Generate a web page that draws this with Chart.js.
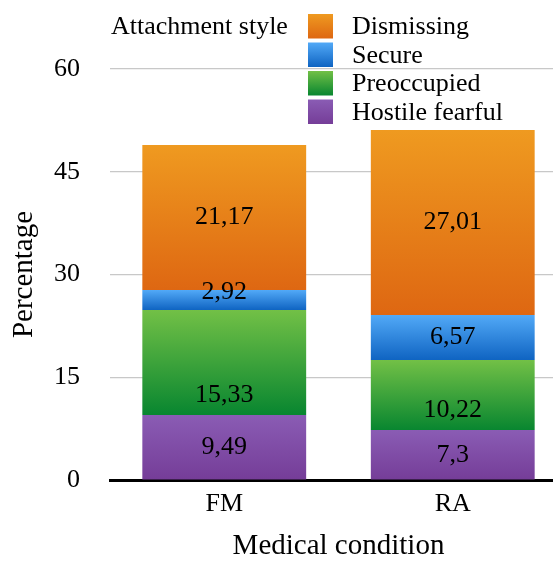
<!DOCTYPE html>
<html>
<head>
<meta charset="utf-8">
<script src="https://cdn.jsdelivr.net/npm/chart.js@4.4.1/dist/chart.umd.min.js"></script>
<style>
  html, body { margin: 0; padding: 0; overflow: hidden; background: #fff; }
  #wrap { width: 580px; height: 561px; position: relative; }
</style>
</head>
<body>
<div id="wrap"><canvas id="chart"></canvas></div>
<script>
// Percentages by attachment style for each medical condition
const conditions = ['FM', 'RA'];
const styleNames = ['Hostile fearful', 'Preoccupied', 'Secure', 'Dismissing'];
const hostileFearful = [9.49, 7.3];
const preoccupied = [15.33, 10.22];
const secure = [2.92, 6.57];
const dismissing = [21.17, 27.01];
const yTicks = [0, 15, 30, 45, 60];

const series = [hostileFearful, preoccupied, secure, dismissing];

// top / bottom gradient stops for each style
const palette = [
  { top: '#8a5cb4', bottom: '#753d98' },
  { top: '#72c046', bottom: '#088630' },
  { top: '#52a9f7', bottom: '#0f64c2' },
  { top: '#ef9a20', bottom: '#de6712' }
];

const FONT = 'Liberation Serif, Times New Roman, serif';
Chart.defaults.font.family = FONT;
Chart.defaults.color = '#000';

function verticalGradient(g, y0, y1, stops) {
  const gr = g.createLinearGradient(0, y0, 0, y1);
  gr.addColorStop(0, stops.top);
  gr.addColorStop(1, stops.bottom);
  return gr;
}

function segmentFill(ctx) {
  const di = ctx.datasetIndex;
  const chart = ctx.chart;
  if (!chart.chartArea || ctx.type !== 'data') return palette[di].bottom;
  const i = ctx.dataIndex;
  let base = 0;
  for (let k = 0; k < di; k++) base += series[k][i];
  const y = chart.scales.y;
  const top = y.getPixelForValue(base + series[di][i]);
  const bot = y.getPixelForValue(base);
  return verticalGradient(chart.ctx, top, bot, palette[di]);
}

const fmt = v => String(v).replace('.', ',');

// value labels inside each stacked segment
const segmentLabels = {
  id: 'segmentLabels',
  afterDatasetsDraw(chart) {
    const g = chart.ctx;
    g.save();
    g.font = '26px ' + FONT;
    g.fillStyle = '#000';
    g.textAlign = 'center';
    g.textBaseline = 'middle';
    chart.data.datasets.forEach((ds, di) => {
      const meta = chart.getDatasetMeta(di);
      meta.data.forEach((bar, j) => {
        const top = bar.y, bottom = bar.base;
        let y = (top + bottom) / 2;
        if (di === 1) y = bottom - 20;
        else if (bottom - top < 30) y -= 8;
        g.fillText(fmt(ds.data[j]), bar.x, y);
      });
    });
    g.restore();
  }
};

// legend with its caption to the left, top item = top of stack
const sideLegend = {
  id: 'sideLegend',
  afterDraw(chart) {
    const g = chart.ctx;
    g.save();
    g.font = '26px ' + FONT;
    g.fillStyle = '#000';
    g.textBaseline = 'middle';
    g.textAlign = 'left';
    g.fillText('Attachment style', 111, 27);
    const order = [3, 2, 1, 0];
    order.forEach((di, r) => {
      const top = 14 + r * 28.5;
      const h = 24.5;
      g.fillStyle = verticalGradient(g, top, top + h, palette[di]);
      g.fillRect(308, top, 25, h);
      g.fillStyle = '#000';
      g.fillText(chart.data.datasets[di].label, 352, top + h / 2 + 1);
    });
    g.restore();
  }
};

new Chart(document.getElementById('chart'), {
  type: 'bar',
  data: {
    labels: conditions,
    datasets: series.map((vals, di) => ({
      label: styleNames[di],
      data: vals,
      backgroundColor: segmentFill,
      borderWidth: 0,
      categoryPercentage: 1,
      barPercentage: 0.717
    }))
  },
  options: {
    responsive: true,
    maintainAspectRatio: false,
    animation: false,
    layout: { padding: { left: 0, right: 13, top: 69, bottom: 0 } },
    plugins: { legend: { display: false }, tooltip: { enabled: false } },
    scales: {
      x: {
        stacked: true,
        z: 1,
        grid: { display: false, drawTicks: false },
        border: { display: true, color: '#000', width: 3 },
        ticks: { padding: 9, font: { size: 26 }, color: '#000' },
        title: {
          display: true, text: 'Medical condition', color: '#000',
          font: { size: 29, lineHeight: 1 }, padding: { top: 0, bottom: 0 }
        },
        afterFit(s) { s.height = 81; s.paddingLeft = 0; s.paddingRight = 0; }
      },
      y: {
        stacked: true,
        min: 0,
        max: 60,
        afterBuildTicks(s) { s.ticks = yTicks.map(v => ({ value: v })); },
        border: { display: false },
        grid: {
          drawTicks: false,
          lineWidth: 1.2,
          color: c => (c.tick && c.tick.value === 0) ? 'rgba(0,0,0,0)' : '#c8c8c8'
        },
        ticks: { padding: 30, font: { size: 26 }, color: '#000' },
        title: {
          display: true, text: 'Percentage', color: '#000',
          font: { size: 29, lineHeight: 1.2 }, padding: { top: 7, bottom: 0 }
        },
        afterFit(s) { s.width = 110; s.paddingTop = 0; s.paddingBottom = 0; }
      }
    }
  },
  plugins: [segmentLabels, sideLegend]
});
</script>
</body>
</html>
